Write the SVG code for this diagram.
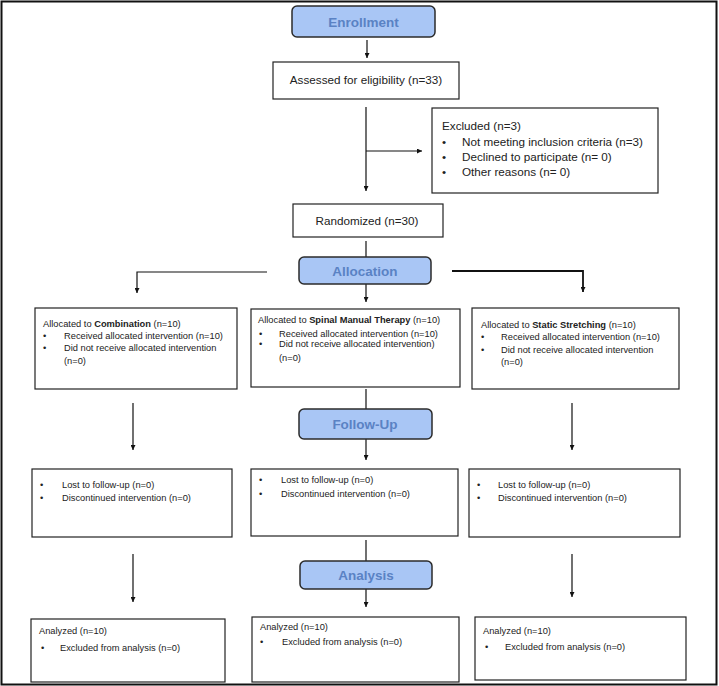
<svg xmlns="http://www.w3.org/2000/svg" width="719" height="686" viewBox="0 0 719 686">
<style>
.box{fill:#fff;stroke:#222;stroke-width:1.2}
.hd{fill:#a9c6f5;stroke:#2b2b2b;stroke-width:1.5}
.ht{font-family:"Liberation Sans",Arial,sans-serif;font-weight:bold;font-size:13.5px;fill:#5a82c4;text-anchor:middle}
.t{font-family:"Liberation Sans",Arial,sans-serif;font-size:9.3px;fill:#222}
.m{font-family:"Liberation Sans",Arial,sans-serif;font-size:11.7px;fill:#222}
.b{font-weight:bold}
.ln{fill:none;stroke:#111;stroke-width:1.2}
</style>
<defs>
<marker id="ah" viewBox="0 0 10 10" refX="10" refY="5" markerWidth="5" markerHeight="5" orient="auto" markerUnits="userSpaceOnUse">
<path d="M0,0 L10,5 L0,10 z" fill="#111"/>
</marker>
</defs>
<rect x="1.5" y="1.5" width="715" height="683" fill="#fff" stroke="#111" stroke-width="2"/>

<g id="connectors">
<line class="ln" x1="367" y1="40" x2="367" y2="58" marker-end="url(#ah)"/>
<line class="ln" x1="366" y1="107" x2="366" y2="191" marker-end="url(#ah)"/>
<line class="ln" x1="366" y1="151" x2="422" y2="151" marker-end="url(#ah)"/>
<line class="ln" x1="366" y1="241" x2="366" y2="257"/>
<polyline class="ln" points="267,272 137,272 137,293" marker-end="url(#ah)"/>
<polyline class="ln" style="stroke-width:1.8" points="452,271 583,271 583,292" marker-end="url(#ah)"/>
<line class="ln" x1="366" y1="284" x2="366" y2="302" marker-end="url(#ah)"/>
<line class="ln" x1="133" y1="403" x2="133" y2="450" marker-end="url(#ah)"/>
<line class="ln" x1="366" y1="389" x2="366" y2="409"/>
<line class="ln" x1="572" y1="403" x2="572" y2="450" marker-end="url(#ah)"/>
<line class="ln" x1="366" y1="439" x2="366" y2="460" marker-end="url(#ah)"/>
<line class="ln" x1="133" y1="554" x2="133" y2="602" marker-end="url(#ah)"/>
<line class="ln" x1="366" y1="540" x2="366" y2="561"/>
<line class="ln" x1="572" y1="554" x2="572" y2="597" marker-end="url(#ah)"/>
<line class="ln" x1="366" y1="589" x2="366" y2="607" marker-end="url(#ah)"/>
</g>

<g id="enrollment">
<rect class="hd" x="292" y="6" width="143" height="31" rx="5"/>
<text class="ht" x="363.5" y="27">Enrollment</text>
</g>

<g id="assessed">
<rect class="box" x="273" y="62" width="186" height="37"/>
<text class="m" x="366" y="84" text-anchor="middle">Assessed for eligibility (n=33)</text>
</g>

<g id="excluded">
<rect class="box" x="432" y="108" width="226" height="85"/>
<text class="m" x="442" y="130">Excluded (n=3)</text>
<text class="m" x="442" y="146">•</text><text class="m" x="462" y="146">Not meeting inclusion criteria (n=3)</text>
<text class="m" x="442" y="161">•</text><text class="m" x="462" y="161">Declined to participate (n= 0)</text>
<text class="m" x="442" y="176">•</text><text class="m" x="462" y="176">Other reasons (n= 0)</text>
</g>

<g id="randomized">
<rect class="box" x="293" y="204" width="150" height="33"/>
<text class="m" x="367" y="225" text-anchor="middle">Randomized (n=30)</text>
</g>

<g id="allocation">
<rect class="hd" x="299" y="257" width="132" height="27" rx="5"/>
<text class="ht" x="365" y="276">Allocation</text>
</g>

<g id="alloc-combination">
<rect class="box" x="35" y="308" width="202" height="81"/>
<text class="t" x="43" y="327">Allocated to <tspan class="b">Combination</tspan> (n=10)</text>
<text class="t" x="43" y="339">•</text><text class="t" x="64" y="339">Received allocated intervention (n=10)</text>
<text class="t" x="43" y="351">•</text><text class="t" x="64" y="351">Did not receive allocated intervention</text>
<text class="t" x="64" y="364">(n=0)</text>
</g>

<g id="alloc-smt">
<rect class="box" x="251" y="309" width="209" height="78"/>
<text class="t" x="258" y="323">Allocated to <tspan class="b">Spinal Manual Therapy</tspan> (n=10)</text>
<text class="t" x="259" y="337">•</text><text class="t" x="279" y="337">Received allocated intervention (n=10)</text>
<text class="t" x="259" y="347">•</text><text class="t" x="279" y="347">Did not receive allocated intervention)</text>
<text class="t" x="279" y="361">(n=0)</text>
</g>

<g id="alloc-static">
<rect class="box" x="472" y="308" width="207" height="81"/>
<text class="t" x="481" y="328">Allocated to <tspan class="b">Static Stretching</tspan> (n=10)</text>
<text class="t" x="481" y="340">•</text><text class="t" x="501" y="340">Received allocated intervention (n=10)</text>
<text class="t" x="481" y="353">•</text><text class="t" x="501" y="353">Did not receive allocated intervention</text>
<text class="t" x="501" y="365">(n=0)</text>
</g>

<g id="followup">
<rect class="hd" x="299" y="409" width="133" height="30" rx="5"/>
<text class="ht" x="365" y="429">Follow-Up</text>
</g>

<g id="fu-combination">
<rect class="box" x="32" y="469" width="200" height="68"/>
<text class="t" x="40" y="488">•</text><text class="t" x="62" y="488">Lost to follow-up (n=0)</text>
<text class="t" x="40" y="501">•</text><text class="t" x="62" y="501">Discontinued intervention (n=0)</text>
</g>

<g id="fu-smt">
<rect class="box" x="251" y="469" width="207" height="67"/>
<text class="t" x="259" y="483">•</text><text class="t" x="281" y="483">Lost to follow-up (n=0)</text>
<text class="t" x="259" y="497">•</text><text class="t" x="281" y="497">Discontinued intervention (n=0)</text>
</g>

<g id="fu-static">
<rect class="box" x="469" y="469" width="211" height="68"/>
<text class="t" x="477" y="488">•</text><text class="t" x="498" y="488">Lost to follow-up (n=0)</text>
<text class="t" x="477" y="501">•</text><text class="t" x="498" y="501">Discontinued intervention (n=0)</text>
</g>

<g id="analysis">
<rect class="hd" x="300" y="561" width="132" height="28" rx="5"/>
<text class="ht" x="366" y="580">Analysis</text>
</g>

<g id="an-combination">
<rect class="box" x="31" y="619" width="194" height="63"/>
<text class="t" x="39" y="634">Analyzed (n=10)</text>
<text class="t" x="41" y="651">•</text><text class="t" x="60" y="651">Excluded from analysis (n=0)</text>
</g>

<g id="an-smt">
<rect class="box" x="252" y="617" width="207" height="65"/>
<text class="t" x="260" y="630">Analyzed (n=10)</text>
<text class="t" x="260" y="645">•</text><text class="t" x="282" y="645">Excluded from analysis (n=0)</text>
</g>

<g id="an-static">
<rect class="box" x="475" y="617" width="211" height="63"/>
<text class="t" x="483" y="634">Analyzed (n=10)</text>
<text class="t" x="485" y="650">•</text><text class="t" x="505" y="650">Excluded from analysis (n=0)</text>
</g>
</svg>
